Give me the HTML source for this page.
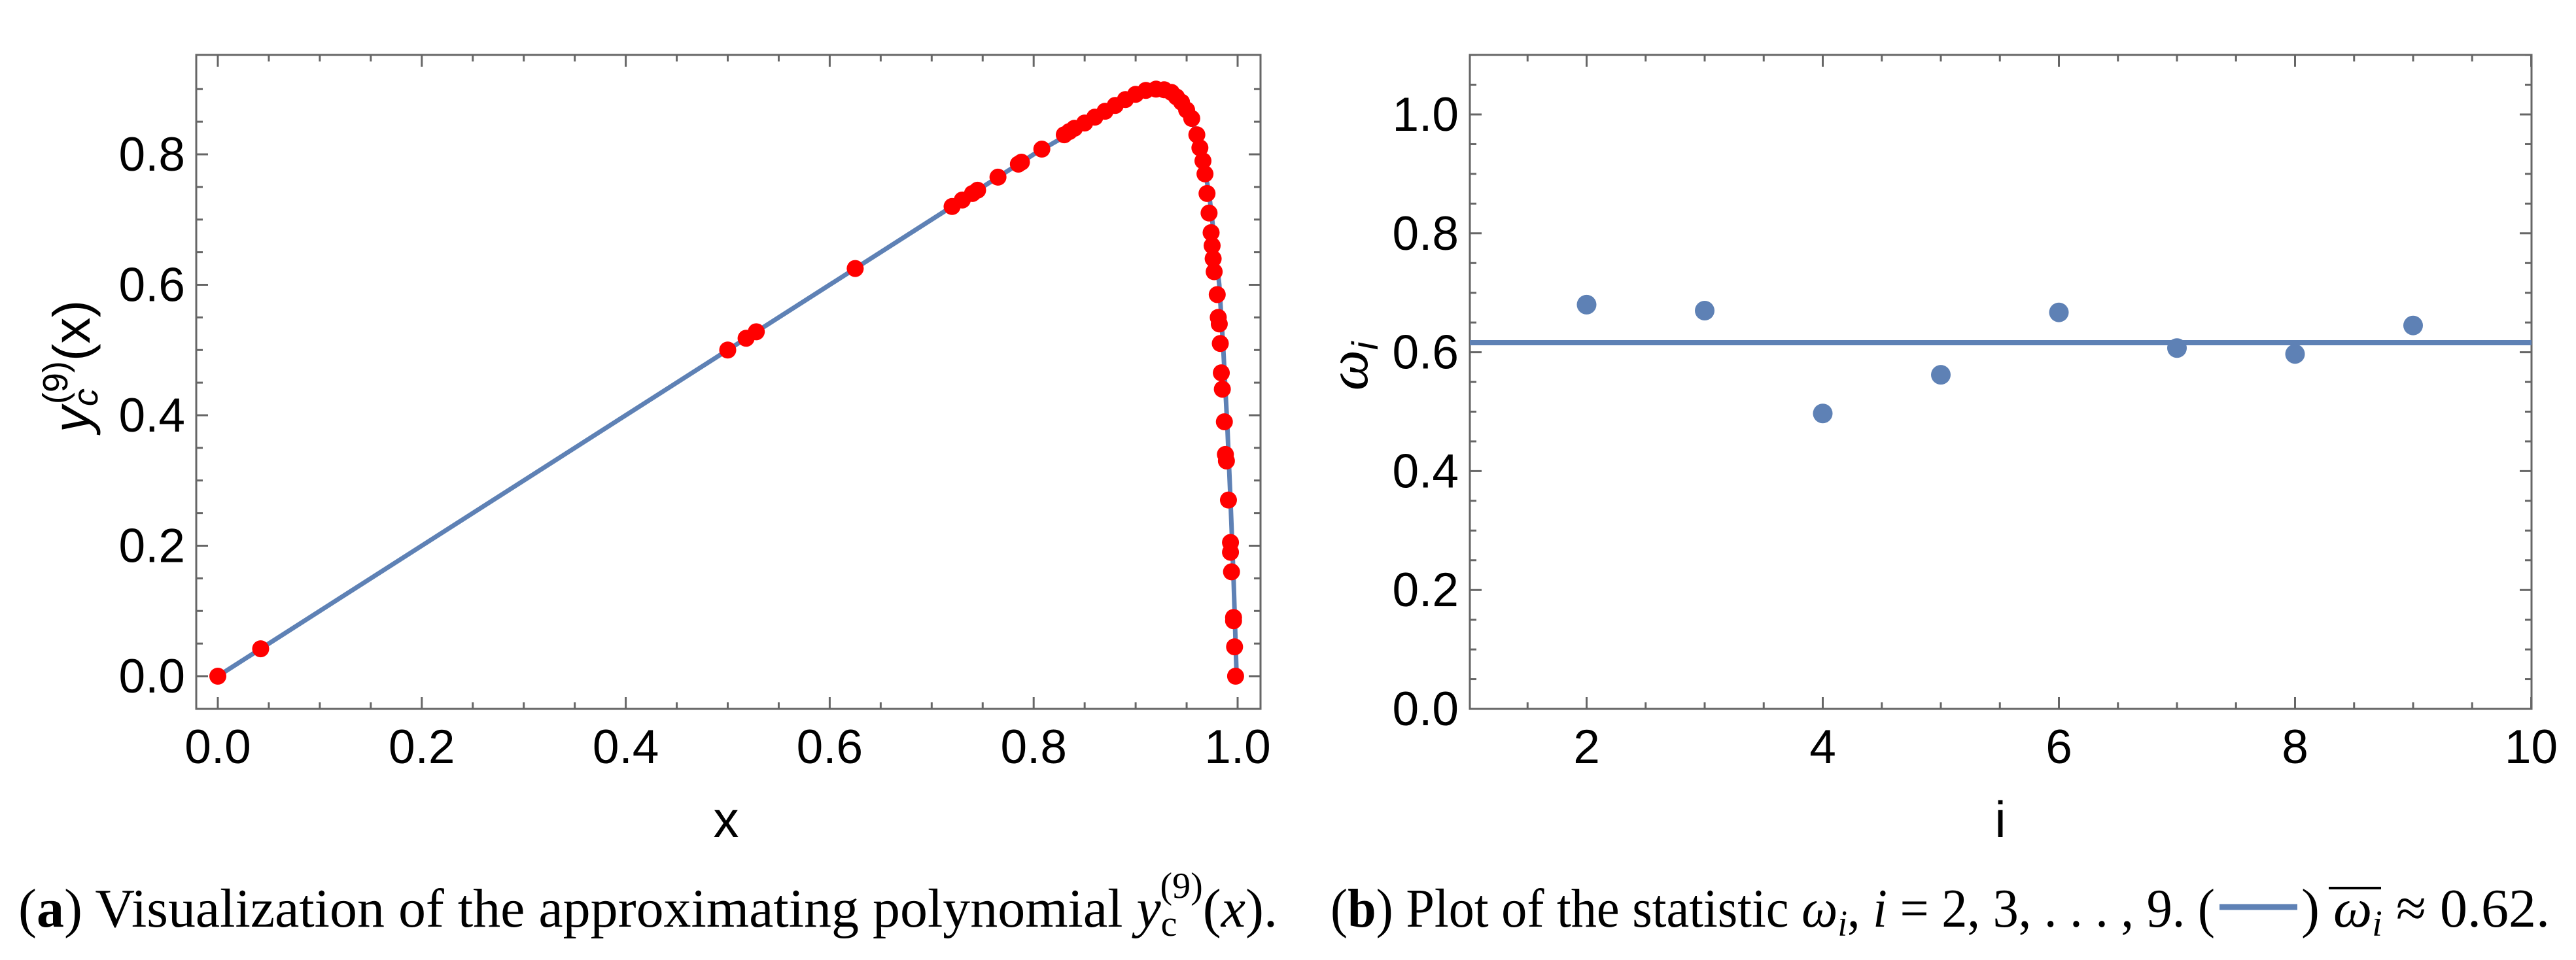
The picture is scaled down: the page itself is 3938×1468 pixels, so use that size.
<!DOCTYPE html>
<html><head><meta charset="utf-8"><style>
html,body{margin:0;padding:0;background:#fff;}
svg{display:block;}
text{font-family:"Liberation Sans",sans-serif;}
.cap{font-family:"Liberation Serif",serif;}
</style></head>
<body>
<svg id="fig" width="3938" height="1468" viewBox="0 0 3938 1468" xmlns="http://www.w3.org/2000/svg">
<g id="pa"></g>
<g id="pb"></g>
<text class="cap" x="28" y="1417" font-size="84" textLength="1925" lengthAdjust="spacingAndGlyphs">(<tspan font-weight="bold">a</tspan>) Visualization of the approximating polynomial <tspan font-style="italic">y</tspan><tspan font-size="56" dy="14">c</tspan><tspan font-size="56" dx="-26" dy="-58">(9)</tspan><tspan dy="44">(</tspan><tspan font-style="italic">x</tspan>).</text>
<text class="cap" x="2034" y="1417" font-size="84" textLength="1352" lengthAdjust="spacingAndGlyphs">(<tspan font-weight="bold">b</tspan>) Plot of the statistic <tspan font-style="italic">ω</tspan><tspan font-size="56" font-style="italic" dy="14">i</tspan><tspan dy="-14">, </tspan><tspan font-style="italic">i</tspan> = 2, 3, . . . , 9. (</text>
<line x1="3393" y1="1387" x2="3512" y2="1387" stroke="#5e81b5" stroke-width="9"/>
<text class="cap" x="3518" y="1417" font-size="84">) <tspan font-style="italic">ω</tspan><tspan font-size="56" font-style="italic" dy="14">i</tspan><tspan dy="-14"> ≈ 0.62.</tspan></text>
<line x1="3560" y1="1358" x2="3640" y2="1358" stroke="#000" stroke-width="4"/>
</svg>
<script>
// ---- Panel A data ----
const curveX = [0,0.8,0.85,0.88,0.9,0.92,0.935,0.945,0.955,0.965,0.972,0.978,0.982,0.986,0.99,0.993,0.996,0.998,0.999];
const curveY = [0,0.8,0.845,0.875,0.893,0.9,0.895,0.88,0.855,0.8,0.74,0.66,0.6,0.5,0.38,0.27,0.15,0.05,0];
const ptsX = [0,0.042,0.5,0.518,0.528,0.625,0.72,0.73,0.74,0.745,0.765,0.785,0.788,0.808,0.83,0.835,0.84,0.85,0.86,0.87,0.88,0.89,0.9,0.91,0.92,0.928,0.935,0.94,0.945,0.95,0.955,0.96,0.963,0.966,0.968,0.97,0.972,0.974,0.975,0.976,0.977,0.98,0.981,0.982,0.983,0.984,0.985,0.987,0.988,0.989,0.991,0.993,0.993,0.994,0.996,0.996,0.997,0.998];
const ptsY = [0,0.042,0.5,0.518,0.528,0.625,0.72,0.73,0.74,0.745,0.765,0.785,0.788,0.808,0.83,0.835,0.84,0.848,0.857,0.866,0.875,0.884,0.892,0.898,0.9,0.899,0.895,0.888,0.88,0.868,0.855,0.83,0.81,0.79,0.77,0.74,0.71,0.68,0.66,0.64,0.62,0.585,0.55,0.54,0.51,0.465,0.44,0.39,0.34,0.33,0.27,0.205,0.19,0.16,0.09,0.085,0.045,0];
const aXTicks = [0,0.2,0.4,0.6,0.8,1.0];
const aXLabels = ["0.0","0.2","0.4","0.6","0.8","1.0"];
const aYTicks = [0,0.2,0.4,0.6,0.8];
const aYLabels = ["0.0","0.2","0.4","0.6","0.8"];
// ---- Panel B data ----
const bI = [2,3,4,5,6,7,8,9];
const bOmega = [0.68,0.67,0.497,0.562,0.667,0.607,0.597,0.645];
const bMean = [0.616];
const bXTicks = [2,4,6,8,10];
const bXLabels = ["2","4","6","8","10"];
const bYTicks = [0,0.2,0.4,0.6,0.8,1.0];
const bYLabels = ["0.0","0.2","0.4","0.6","0.8","1.0"];

const NS="http://www.w3.org/2000/svg";
function mk(parent,tag,attrs){const e=document.createElementNS(NS,tag);for(const k in attrs)e.setAttribute(k,attrs[k]);parent.appendChild(e);return e;}

function frame(g,L,R,T,B,sx,sy,xMinor,yMinor,xMaj,yMaj,xLab,yLab,tickLabelX){
  const f=mk(g,'rect',{x:L,y:T,width:R-L,height:B-T,fill:'none',stroke:'#666','stroke-width':3});
  
  
  xMinor.forEach(v=>{const x=sx(v);const maj=xMaj.some(m=>Math.abs(m-v)<1e-9);const len=maj?18:10;
    mk(g,'line',{x1:x,y1:B,x2:x,y2:B-len,stroke:'#666','stroke-width':3});
    mk(g,'line',{x1:x,y1:T,x2:x,y2:T+len,stroke:'#666','stroke-width':3});});
  yMinor.forEach(v=>{const y=sy(v);const maj=yMaj.some(m=>Math.abs(m-v)<1e-9);const len=maj?18:10;
    mk(g,'line',{x1:L,y1:y,x2:L+len,y2:y,stroke:'#666','stroke-width':3});
    mk(g,'line',{x1:R,y1:y,x2:R-len,y2:y,stroke:'#666','stroke-width':3});});
  xMaj.forEach((v,i)=>{const t=mk(g,'text',{x:sx(v),y:1167,'font-size':73,'text-anchor':'middle',fill:'#000'});t.textContent=xLab[i];
    
    });
  yMaj.forEach((v,i)=>{const t=mk(g,'text',{x:tickLabelX,y:sy(v)+25,'font-size':73,'text-anchor':'end',fill:'#000'});t.textContent=yLab[i];
    
    });
}
function range(a,b,s){const r=[];for(let v=a;v<=b+1e-9;v+=s)r.push(Math.round(v*1000)/1000);return r;}

// Panel A
(function(){
  const g=document.getElementById('pa');
  const L=300,R=1927,T=84,B=1084;
  const sx=v=>333+v*1559, sy=v=>1034-v*997.5;
  frame(g,L,R,T,B,sx,sy,range(0,1,0.05),range(0,0.9,0.05),aXTicks,aYTicks,aXLabels,aYLabels,283);
  const d=curveX.map((x,i)=>(i?'L':'M')+sx(x)+','+sy(curveY[i])).join(' ');
  const p=mk(g,'path',{d:d,fill:'none',stroke:'#5e81b5','stroke-width':7,'stroke-linejoin':'round'});
  
  
  ptsX.forEach((x,i)=>{const c=mk(g,'circle',{cx:sx(x),cy:sy(ptsY[i]),r:13,fill:'#ff0000'});
    
    });
  const xl=mk(g,'text',{x:1110,y:1280,'font-size':78,'text-anchor':'middle'});xl.textContent='x';
  
  
  const yl=mk(g,'text',{x:0,y:0,'font-size':80,'text-anchor':'middle',transform:'translate(137,560) rotate(-90)'});
  yl.innerHTML='<tspan font-style="italic">y</tspan><tspan font-size="54" font-style="italic" dy="12">c</tspan><tspan font-size="54" dx="-24" dy="-46">(9)</tspan><tspan dy="34">(x)</tspan>';
  
  
})();

// Panel B
(function(){
  const g=document.getElementById('pb');
  const L=2247,R=3870,T=84,B=1084;
  const sx=v=>2245+(v-1)*180.5, sy=v=>1084-v*909;
  frame(g,L,R,T,B,sx,sy,range(1.5,10,0.5),range(0,1.1,0.05),bXTicks,bYTicks,bXLabels,bYLabels,2230);
  const ml=mk(g,'line',{x1:L,y1:sy(bMean[0]),x2:R,y2:sy(bMean[0]),stroke:'#5e81b5','stroke-width':8});
  
  
  bI.forEach((v,i)=>{const c=mk(g,'circle',{cx:sx(v),cy:sy(bOmega[i]),r:15,fill:'#5e81b5'});
    
    });
  const xl=mk(g,'text',{x:3058,y:1280,'font-size':78,'text-anchor':'middle'});xl.textContent='i';
  
  
  const yl=mk(g,'text',{x:0,y:0,'font-size':88,'text-anchor':'middle',transform:'translate(2090,560) rotate(-90)'});
  yl.innerHTML='<tspan font-style="italic" font-family="Liberation Serif, serif">ω</tspan><tspan font-size="56" font-style="italic" dy="16">i</tspan>';
  
  
})();
</script>
</body></html>
